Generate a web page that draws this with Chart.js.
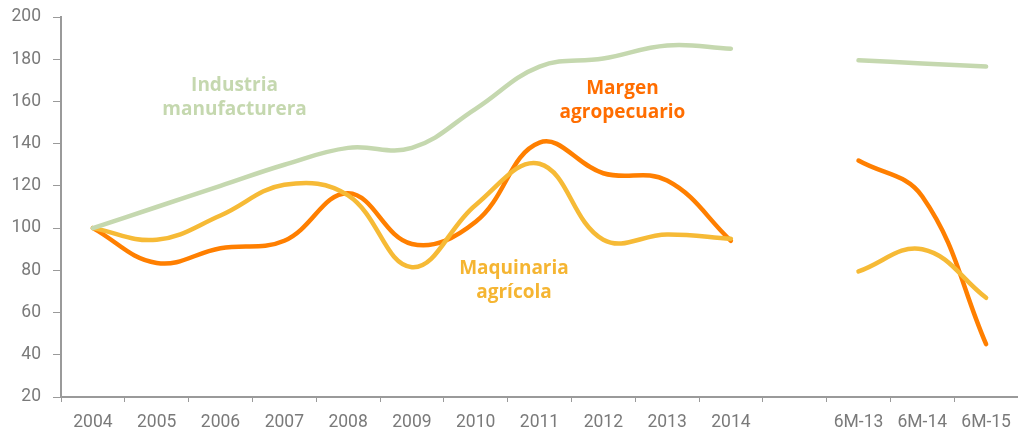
<!DOCTYPE html>
<html>
<head>
<meta charset="utf-8">
<script src="https://cdn.jsdelivr.net/npm/chart.js@4.4.0/dist/chart.umd.min.js"></script>
<style>
  html, body { margin: 0; padding: 0; background: #fff; }
  #wrap { width: 1018px; height: 430px; }
</style>
</head>
<body>
<div id="wrap"><canvas id="lineChart"></canvas></div>
<script>
// categories and series
const periods = ['2004', '2005', '2006', '2007', '2008', '2009', '2010', '2011', '2012', '2013', '2014', '', '6M-13', '6M-14', '6M-15'];
const industria = [100, 110, 120, 130, 138, 138, 156.5, 176.5, 180.3, 186.5, 185, null, 179.5, 178, 176.5];
const margen = [100, 83.5, 90.5, 94, 116.5, 92.5, 103, 140.5, 126, 122.5, 94, null, 132, 115, 45];
const maquinaria = [100, 94.5, 106, 120.5, 115.5, 81.5, 111, 130.5, 94.5, 97, 95, null, 79.5, 90, 67];
const yTicks = [20, 40, 60, 80, 100, 120, 140, 160, 180, 200];

// text labels placed next to each line: [lines, category index, value of first baseline, colour]
const seriesLabels = [
    [['Industria', 'manufacturera'], 2.22, 165, '#c5d8af'],
    [['Margen', 'agropecuario'], 8.3, 163.5, '#ff6d00'],
    [['Maquinaria', 'agrícola'], 6.6, 78.5, '#f5b532']
];

const labelPlugin = {
    id: 'seriesLabels',
    afterDatasetsDraw(chart) {
        const ctx = chart.ctx;
        const x = chart.scales.x;
        const y = chart.scales.y;
        ctx.save();
        ctx.font = 'bold 19px "Open Sans", sans-serif';
        ctx.textAlign = 'center';
        ctx.textBaseline = 'alphabetic';
        seriesLabels.forEach(function (l) {
            const px = x.getPixelForValue(l[1]);
            const py = y.getPixelForValue(l[2]);
            ctx.fillStyle = l[3];
            ctx.fillText(l[0][0], px, py);
            ctx.fillText(l[0][1], px, py + 24);
        });
        ctx.restore();
    }
};

function line(label, data, color) {
    return {
        label: label,
        data: data,
        borderColor: color,
        backgroundColor: color,
        borderWidth: 4.5,
        pointRadius: 0,
        tension: 0.4,
        borderCapStyle: 'round',
        spanGaps: false,
        fill: false
    };
}

const canvas = document.getElementById('lineChart').getContext('2d');
new Chart(canvas, {
    type: 'line',
    data: {
        labels: periods,
        datasets: [
            line('Industria manufacturera', industria, '#c5d8af'),
            line('Maquinaria agrícola', maquinaria, '#f6ba36'),
            line('Margen agropecuario', margen, '#ff7f00')
        ]
    },
    options: {
        responsive: true,
        maintainAspectRatio: false,
        animation: false,
        layout: { padding: { top: 17, right: 0, left: 0, bottom: 0 } },
        plugins: {
            legend: { display: false },
            tooltip: { enabled: false }
        },
        scales: {
            x: {
                offset: true,
                grid: { drawOnChartArea: false, drawTicks: true, tickLength: 5, color: '#9a9a9a', offset: true },
                border: { color: '#9a9a9a', width: 2 },
                ticks: {
                    color: '#7a7a7a',
                    font: { family: 'Roboto', size: 17.5 },
                    padding: 10,
                    maxRotation: 0,
                    autoSkip: false
                },
                afterFit: function (scale) {
                    scale.height = 33;
                    scale.paddingLeft = 0;
                    scale.paddingRight = 0;
                }
            },
            y: {
                min: 20,
                max: 200,
                afterBuildTicks: function (scale) {
                    scale.ticks = yTicks.map(v => ({ value: v }));
                },
                grid: { drawOnChartArea: false, drawTicks: true, tickLength: 8, color: '#9a9a9a' },
                border: { color: '#9a9a9a', width: 2 },
                ticks: {
                    color: '#7a7a7a',
                    font: { family: 'Roboto', size: 17.5 },
                    padding: 12
                },
                afterFit: function (scale) {
                    scale.width = 61;
                    scale.paddingTop = 0;
                    scale.paddingBottom = 0;
                }
            }
        }
    },
    plugins: [labelPlugin]
});
</script>
</body>
</html>
